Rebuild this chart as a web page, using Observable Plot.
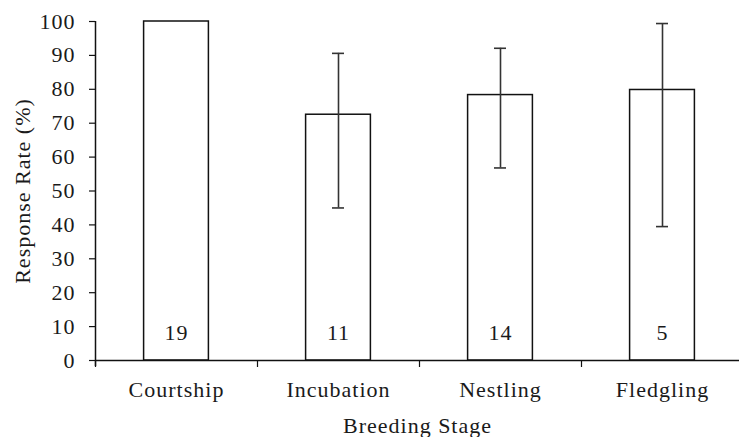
<!DOCTYPE html>
<html><head><meta charset="utf-8">
<script src="https://cdn.jsdelivr.net/npm/d3@7"></script>
<script src="https://cdn.jsdelivr.net/npm/@observablehq/plot@0.6"></script>
<style>body{margin:0;background:#fff}</style>
</head><body><div id="chart"></div>
<script>
const stages = ["Courtship", "Incubation", "Nestling", "Fledgling"];
const rates = [100, 72.5, 78.3, 79.8];
const errLow = [null, 45.0, 56.8, 39.5];
const errHigh = [null, 90.6, 92.1, 99.4];
const counts = [19, 11, 14, 5];
const yTicks = [0, 10, 20, 30, 40, 50, 60, 70, 80, 90, 100];
const yLabel = "Response Rate (%)";
const xLabel = "Breeding Stage";

const data = stages.map((s, i) => ({stage: s, i, rate: rates[i], lo: errLow[i], hi: errHigh[i], n: counts[i]}));
const errs = data.filter(d => d.lo != null);
const center = d => d.i + 0.5;
const FS = 22;

const chart = Plot.plot({
  width: 739,
  height: 437,
  marginLeft: 95,
  marginTop: 21,
  marginBottom: 77,
  marginRight: 0,
  style: {fontFamily: "'Liberation Serif', 'Times New Roman', serif", fontSize: FS + "px", letterSpacing: "1px", color: "#1a1a1a", background: "#fff"},
  x: {type: "linear", domain: [0, 4], range: [95, 743]},
  y: {domain: [0, 100], range: [360, 21]},
  marks: [
    Plot.rectY(data, {x1: d => d.i + 0.3, x2: d => d.i + 0.7, y1: 0, y2: "rate", fill: "white", stroke: "#111", strokeWidth: 1.5}),
    Plot.ruleX(errs, {x: center, y1: "lo", y2: "hi", stroke: "#333", strokeWidth: 1.6}),
    Plot.ruleY(errs, {y: "hi", x1: center, x2: center, insetLeft: -6, insetRight: -6, stroke: "#333", strokeWidth: 1.6}),
    Plot.ruleY(errs, {y: "lo", x1: center, x2: center, insetLeft: -6, insetRight: -6, stroke: "#333", strokeWidth: 1.6}),
    Plot.ruleY([0], {stroke: "#111", strokeWidth: 1.5}),
    Plot.ruleX([0], {insetBottom: -6, stroke: "#111", strokeWidth: 1.5}),
    Plot.axisY({ticks: yTicks, tickSize: 6, tickPadding: 14, label: null, stroke: "#111", strokeWidth: 1.2, fontSize: FS}),
    Plot.axisX({ticks: [0, 1, 2, 3, 4], tickSize: 7, tickFormat: () => "", label: null, stroke: "#111", strokeWidth: 1.2}),
    Plot.axisX({ticks: stages.map((s, i) => i + 0.5), tickSize: 0, tickPadding: 21, tickFormat: v => stages[Math.floor(v)], label: null, fontSize: FS}),
    Plot.text(data, {x: center, y: 0, dy: -28, text: "n", fill: "#1a1a1a", fontSize: FS}),
    Plot.text([yLabel], {frameAnchor: "left", dx: -73, rotate: -90, textAnchor: "middle", lineAnchor: "middle", fill: "#1a1a1a", fontSize: FS}),
    Plot.text([xLabel], {frameAnchor: "bottom", dy: 65, textAnchor: "middle", lineAnchor: "middle", fill: "#1a1a1a", fontSize: FS})
  ]
});
document.getElementById("chart").appendChild(chart);
</script>
</body></html>
